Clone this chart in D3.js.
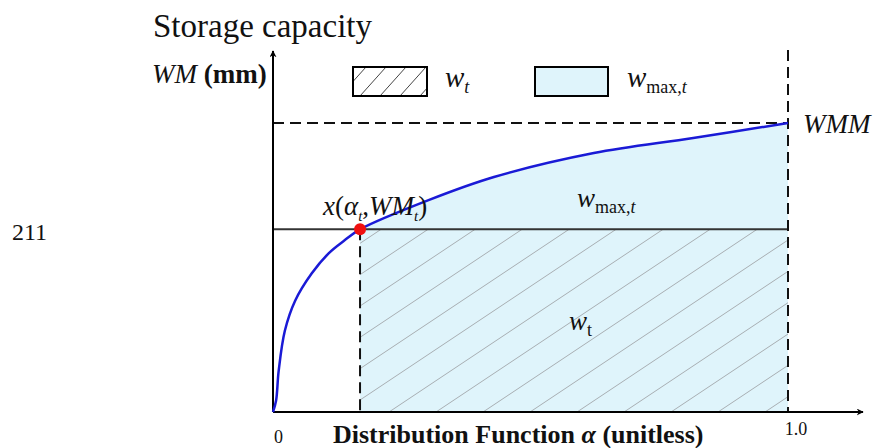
<!DOCTYPE html>
<html>
<head>
<meta charset="utf-8">
<script src="https://cdn.jsdelivr.net/npm/d3@7"></script>
<style>
  body { margin: 0; background: #fff; }
  text { font-family: "Liberation Serif", "Times New Roman", serif; fill: #111; }
</style>
</head>
<body>
<div id="chart"></div>
<script>
// values (alpha = distribution function, wm = WM / WMM)
var alphaPts = [0, 0.006, 0.011, 0.023, 0.043, 0.075, 0.108, 0.139, 0.169, 0.302, 0.429, 0.623, 0.816, 1.0];
var wmPts = [0, 0.04, 0.142, 0.281, 0.385, 0.479, 0.549, 0.594, 0.632, 0.733, 0.813, 0.896, 0.948, 1.0];
var alphaT = 0.169;
var wmT = 0.632;
var xTickValues = [0, 1.0];
var xTickLabels = ["0", "1.0"];

var svgWidth = 876;
var svgHeight = 448;

var svg = d3.select("#chart")
  .append("svg")
  .attr("width", svgWidth)
  .attr("height", svgHeight);

var xScale = d3.scaleLinear().domain([0, 1]).range([273, 788]);
var yScale = d3.scaleLinear().domain([0, 1]).range([412, 123]);

var curveData = alphaPts.map((a, i) => ({a: a, w: wmPts[i]}));
var smooth = d3.curveCatmullRom.alpha(0.5);

var defs = svg.append("defs");
defs.append("marker")
  .attr("id", "arrow")
  .attr("viewBox", "0 0 10 10")
  .attr("refX", 9).attr("refY", 5)
  .attr("markerWidth", 7).attr("markerHeight", 7)
  .attr("markerUnits", "userSpaceOnUse")
  .attr("orient", "auto")
  .append("path")
  .attr("d", "M0,0 L10,5 L0,10 L3,5 Z")
  .attr("fill", "#000");

// light blue area under the curve, from alpha_t to 1
var areaData = curveData.filter(d => d.a >= alphaT);
var area = d3.area()
  .x(d => xScale(d.a))
  .y0(yScale(0))
  .y1(d => yScale(d.w))
  .curve(smooth);
svg.append("path")
  .datum(areaData)
  .attr("d", area)
  .attr("fill", "#dff4fb");

// hatching inside the w_t rectangle
defs.append("clipPath").attr("id", "wtClip")
  .append("rect")
  .attr("x", xScale(alphaT)).attr("y", yScale(wmT))
  .attr("width", xScale(1) - xScale(alphaT))
  .attr("height", yScale(0) - yScale(wmT));

var hatchG = svg.append("g").attr("clip-path", "url(#wtClip)");
var hatchH = yScale(0) - yScale(wmT);
for (var hx = xScale(alphaT) - 300; hx < xScale(1) + 20; hx += 47) {
  hatchG.append("line")
    .attr("x1", hx).attr("y1", yScale(0))
    .attr("x2", hx + hatchH * 1.5).attr("y2", yScale(wmT))
    .attr("stroke", "#a8aeb2").attr("stroke-width", 1);
}

// WM_t level line
svg.append("line")
  .attr("x1", xScale(0)).attr("x2", xScale(1))
  .attr("y1", yScale(wmT)).attr("y2", yScale(wmT))
  .attr("stroke", "#333").attr("stroke-width", 2);

// dashed guides
svg.append("line")
  .attr("x1", xScale(0)).attr("x2", xScale(1))
  .attr("y1", yScale(1)).attr("y2", yScale(1))
  .attr("stroke", "#111").attr("stroke-width", 2)
  .attr("stroke-dasharray", "11,6");
svg.append("line")
  .attr("x1", xScale(1)).attr("x2", xScale(1))
  .attr("y1", 50).attr("y2", yScale(0))
  .attr("stroke", "#111").attr("stroke-width", 2)
  .attr("stroke-dasharray", "11,6");
svg.append("line")
  .attr("x1", xScale(alphaT)).attr("x2", xScale(alphaT))
  .attr("y1", yScale(wmT)).attr("y2", yScale(0))
  .attr("stroke", "#111").attr("stroke-width", 2)
  .attr("stroke-dasharray", "11,6");

// axes
svg.append("line")
  .attr("x1", xScale(0)).attr("y1", yScale(0))
  .attr("x2", 863).attr("y2", yScale(0))
  .attr("stroke", "#000").attr("stroke-width", 2)
  .attr("marker-end", "url(#arrow)");
svg.append("line")
  .attr("x1", xScale(0)).attr("y1", yScale(0))
  .attr("x2", xScale(0)).attr("y2", 51)
  .attr("stroke", "#000").attr("stroke-width", 2)
  .attr("marker-end", "url(#arrow)");

// storage capacity curve
var line = d3.line()
  .x(d => xScale(d.a))
  .y(d => yScale(d.w))
  .curve(smooth);
svg.append("path")
  .datum(curveData)
  .attr("d", line)
  .attr("fill", "none")
  .attr("stroke", "#1a1ad6")
  .attr("stroke-width", 2.5);

// point x(alpha_t, WM_t)
svg.append("circle")
  .attr("cx", xScale(alphaT)).attr("cy", yScale(wmT))
  .attr("r", 6).attr("fill", "#f01010");

// tick labels
svg.append("text")
  .attr("x", xScale(xTickValues[0]) + 1).attr("y", 443)
  .attr("font-size", 18)
  .text(xTickLabels[0]);
svg.append("text")
  .attr("x", xScale(xTickValues[1]) + 8).attr("y", 435)
  .attr("text-anchor", "middle")
  .attr("font-size", 18)
  .text(xTickLabels[1]);

// axis titles
svg.append("text")
  .attr("x", 153).attr("y", 37)
  .attr("font-size", 33)
  .text("Storage capacity");

var yTitle = svg.append("text").attr("x", 152).attr("y", 83).attr("font-size", 27);
yTitle.append("tspan").attr("font-style", "italic").text("WM");
yTitle.append("tspan").attr("font-weight", "bold").text(" (mm)");

var xTitle = svg.append("text").attr("x", 333).attr("y", 443)
  .attr("font-size", 26).attr("font-weight", "bold");
xTitle.append("tspan").text("Distribution Function ");
xTitle.append("tspan").attr("font-style", "italic").text("α");
xTitle.append("tspan").text(" (unitless)");

// WMM label
svg.append("text")
  .attr("x", 803).attr("y", 133)
  .attr("font-size", 27).attr("font-style", "italic")
  .text("WMM");

// point label
var ptLabel = svg.append("text").attr("x", 323).attr("y", 215).attr("font-size", 27);
ptLabel.append("tspan").attr("font-style", "italic").text("x");
ptLabel.append("tspan").text("(");
ptLabel.append("tspan").attr("font-style", "italic").text("α");
ptLabel.append("tspan").attr("font-style", "italic").attr("font-size", 15).attr("dy", 6).text("t");
ptLabel.append("tspan").attr("dy", -6).text(",");
ptLabel.append("tspan").attr("font-style", "italic").text("WM");
ptLabel.append("tspan").attr("font-style", "italic").attr("font-size", 15).attr("dy", 6).text("t");
ptLabel.append("tspan").attr("dy", -6).text(")");

// region labels
var lblMax = svg.append("text").attr("x", 577).attr("y", 207).attr("font-size", 27).attr("fill", "#333");
lblMax.append("tspan").attr("font-style", "italic").text("w");
lblMax.append("tspan").attr("font-size", 18).attr("dy", 6).text("max,");
lblMax.append("tspan").attr("font-size", 18).attr("font-style", "italic").text("t");

var lblT = svg.append("text").attr("x", 569).attr("y", 330).attr("font-size", 27).attr("fill", "#333");
lblT.append("tspan").attr("font-style", "italic").text("w");
lblT.append("tspan").attr("font-size", 18).attr("dy", 6).text("t");

// legend
var legend = svg.append("g");
defs.append("clipPath").attr("id", "legClip")
  .append("rect").attr("x", 353).attr("y", 67).attr("width", 74).attr("height", 29);
var lh = legend.append("g").attr("clip-path", "url(#legClip)");
for (var lx = 340; lx < 440; lx += 20) {
  lh.append("line")
    .attr("x1", lx).attr("y1", 96).attr("x2", lx + 26).attr("y2", 67)
    .attr("stroke", "#444").attr("stroke-width", 1);
}
legend.append("rect")
  .attr("x", 353).attr("y", 67).attr("width", 74).attr("height", 29)
  .attr("fill", "none").attr("stroke", "#000").attr("stroke-width", 2);
legend.append("rect")
  .attr("x", 535).attr("y", 67).attr("width", 73).attr("height", 29)
  .attr("fill", "#dff4fb").attr("stroke", "#000").attr("stroke-width", 2);

var legT = legend.append("text").attr("x", 445).attr("y", 87).attr("font-size", 29);
legT.append("tspan").attr("font-style", "italic").text("w");
legT.append("tspan").attr("font-style", "italic").attr("font-size", 18).attr("dy", 6).text("t");

var legM = legend.append("text").attr("x", 627).attr("y", 87).attr("font-size", 29);
legM.append("tspan").attr("font-style", "italic").text("w");
legM.append("tspan").attr("font-size", 18).attr("dy", 6).text("max,");
legM.append("tspan").attr("font-size", 18).attr("font-style", "italic").text("t");

// page line number
svg.append("text")
  .attr("x", 12).attr("y", 240)
  .attr("font-size", 24)
  .text("211");
</script>
</body>
</html>
